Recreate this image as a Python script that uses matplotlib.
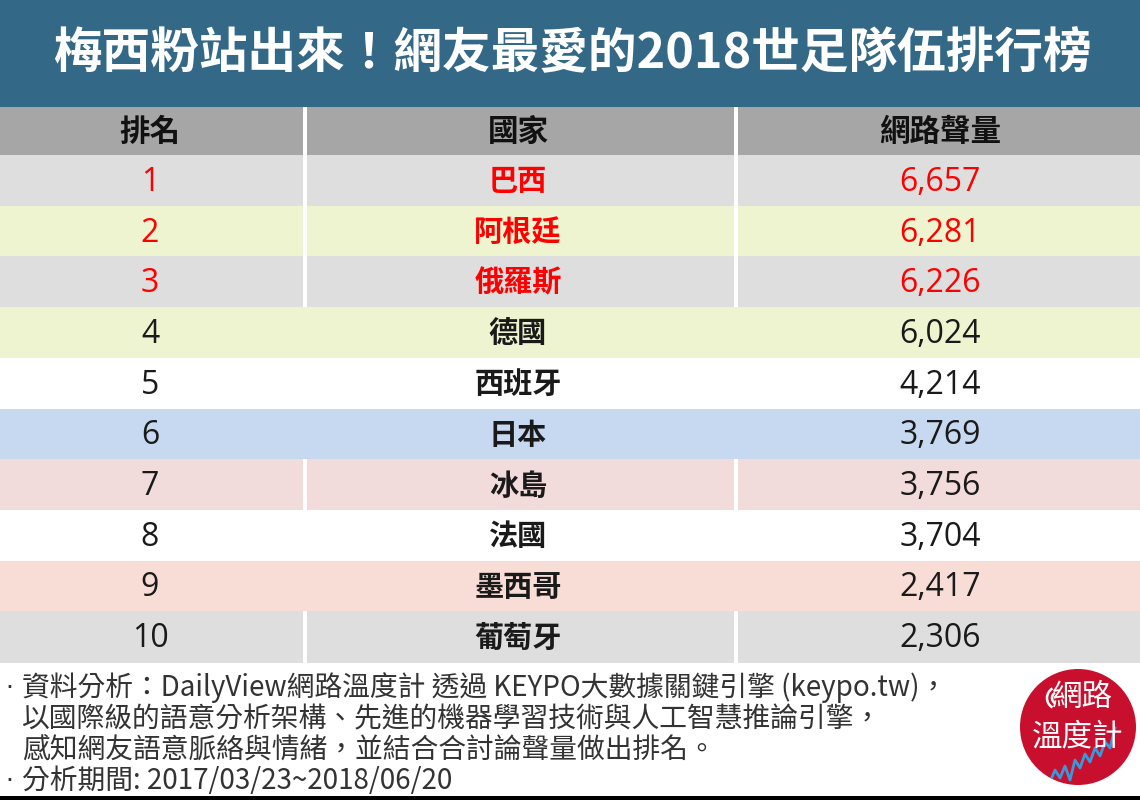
import matplotlib
matplotlib.use("Agg")
import matplotlib.pyplot as plt
from matplotlib.patches import Rectangle, Circle, Arc

plt.rcParams['font.family'] = ['Noto Sans CJK TC', 'DejaVu Sans']

title = "梅西粉站出來！網友最愛的2018世足隊伍排行榜"
headers = ["排名", "國家", "網路聲量"]
ranks = [1, 2, 3, 4, 5, 6, 7, 8, 9, 10]
countries = ["巴西", "阿根廷", "俄羅斯", "德國", "西班牙", "日本", "冰島", "法國", "墨西哥", "葡萄牙"]
volumes = [6657, 6281, 6226, 6024, 4214, 3769, 3756, 3704, 2417, 2306]
row_colors = ["#dedede", "#eff4d0", "#dedede", "#eff4d0", "#ffffff",
              "#c6d9f0", "#f2dcdb", "#ffffff", "#f8ddd6", "#dedede"]
has_divider = [True, True, True, False, False, False, True, False, False, True]
notes = ["資料分析：DailyView網路溫度計 透過 KEYPO大數據關鍵引擎 (keypo.tw)，",
         "以國際級的語意分析架構、先進的機器學習技術與人工智慧推論引擎，",
         "感知網友語意脈絡與情緒，並結合合討論聲量做出排名。",
         "分析期間: 2017/03/23~2018/06/20"]
note_bullet = [True, False, False, True]
# decorative zigzag in the logo
logo_wave = [0, 8, 2, 14, 6, 18, 4, 24, 16, 30, 22, 36, 28, 42, 36, 56]

W, H = 1140, 800
fig = plt.figure(figsize=(W / 100, H / 100), dpi=100)
ax = fig.add_axes([0, 0, 1, 1])
ax.set_xlim(0, W)
ax.set_ylim(H, 0)
ax.axis("off")

# title band
ax.add_patch(Rectangle((0, 0), W, 107, color="#336887", lw=0))
ax.text(W / 2 + 2, 54, title, color="white", fontsize=35, fontweight="bold",
        ha="center", va="center")

# column layout
col_edges = [0, 303, 734, W]
col_centers = [150, 518, 940]
div_w = 4

# header row
hy0, hy1 = 107, 155
ax.add_patch(Rectangle((0, hy0), W, hy1 - hy0, color="#a6a6a6", lw=0))
for x in col_edges[1:-1]:
    ax.add_patch(Rectangle((x, hy0), div_w, hy1 - hy0, color="white", lw=0))
for cx, h in zip(col_centers, headers):
    ax.text(cx, (hy0 + hy1) / 2 + 1, h, fontsize=22, fontweight="bold",
            color="#111111", ha="center", va="center")

# body rows
row_top = 155
row_h = 50.7
for i, (r, c, v) in enumerate(zip(ranks, countries, volumes)):
    y0 = row_top + i * row_h
    ax.add_patch(Rectangle((0, y0), W, row_h + 0.5, color=row_colors[i], lw=0))
    if has_divider[i]:
        for x in col_edges[1:-1]:
            ax.add_patch(Rectangle((x, y0), div_w, row_h + 0.5, color="white", lw=0))
    tc = "#ff0000" if r <= 3 else "#1a1a1a"
    yc = y0 + row_h / 2 + 2
    ax.text(col_centers[0], yc, str(r), fontsize=23, color=tc, ha="center", va="center",
            family=["Open Sans", "DejaVu Sans"])
    ax.text(col_centers[1], yc - 1, c, fontsize=21, color=tc, ha="center", va="center",
            fontweight="bold")
    ax.text(col_centers[2], yc, f"{v:,}", fontsize=23, color=tc, ha="center", va="center",
            family=["Open Sans", "DejaVu Sans"])

# footer notes
note_y = [688, 719, 750, 781]
for ny, t, b in zip(note_y, notes, note_bullet):
    if b:
        ax.text(5, ny, "·", fontsize=18, color="#333333", ha="left", va="center",
                family=["DejaVu Sans"])
    ax.text(22, ny, t, fontsize=20, color="#333333", ha="left", va="center",
            fontweight="light")

# logo
lc = (1078, 727)
lr = 58
circ = Circle(lc, lr, color="#c8102e", lw=0)
ax.add_patch(circ)
ax.text(lc[0] + 4, lc[1] - 29, "網路", color="white", fontsize=22, ha="center",
        va="center")
ax.text(lc[0], lc[1] + 10, "溫度計", color="white", fontsize=22, ha="center",
        va="center")
for rr in (6, 11):
    ax.add_patch(Arc((lc[0] - 20, lc[1] - 29), 2 * rr, 2 * rr, theta1=120, theta2=240,
                     color="white", lw=1.8))
wx = [lc[0] - 38 + k * 5.0 for k in range(len(logo_wave))]
wy = [lc[1] + 57 - v for v in logo_wave]
wave, = ax.plot(wx, wy, color="#3a9ad9", lw=2)
wave.set_clip_path(circ)

# bottom rule
ax.add_patch(Rectangle((0, 796), W, 4, color="black", lw=0))

fig.savefig("out.png", dpi=100)
